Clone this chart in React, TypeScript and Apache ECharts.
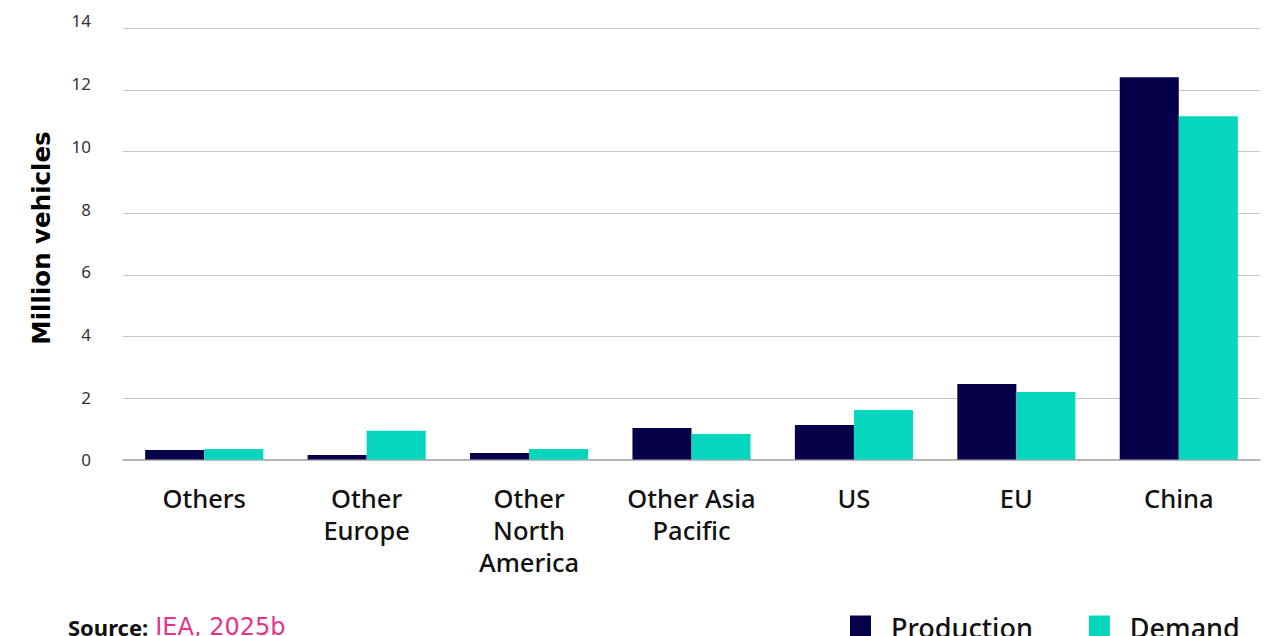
import React, { useEffect, useRef } from "react";
import * as echarts from "echarts";

const categories = ["Others", "Other\nEurope", "Other\nNorth\nAmerica", "Other Asia\nPacific", "US", "EU", "China"];
const production = [0.31, 0.15, 0.21, 1.02, 1.12, 2.45, 12.42];
const demand = [0.34, 0.93, 0.34, 0.83, 1.61, 2.19, 11.15];
const seriesNames = ["Production", "Demand"];
const yTicks = { min: 0, max: 14, interval: 2 };

const FONT = "'Noto Sans', sans-serif";
const WIDE_FONT = "'DejaVu Sans', sans-serif";

// tick labels sit slightly above their grid lines toward the top of the axis
const tickRich: Record<string, any> = {};
for (let v = yTicks.min; v <= yTicks.max; v += yTicks.interval) {
  const shift = Math.max(0, Math.round((v / yTicks.max) * 9 - 1));
  tickRich["t" + v] = {
    fontFamily: FONT,
    fontSize: 17,
    color: "#333",
    padding: [0, 0, shift * 2, 0],
  };
}

export default function App() {
  const ref = useRef<HTMLDivElement>(null);
  useEffect(() => {
    if (!ref.current) return;
    const chart = echarts.init(ref.current, undefined, { renderer: "svg" });
    chart.setOption({
      animation: false,
      backgroundColor: "#ffffff",
      grid: { left: 123, right: 24, top: 28.5, bottom: 176.5 },
      legend: {
        left: 850,
        top: 614,
        padding: 0,
        itemWidth: 21,
        itemHeight: 24,
        itemGap: 56,
        icon: "rect",
        textStyle: { fontFamily: FONT, fontSize: 27, fontWeight: 500, color: "#111", padding: [0, 0, 0, 15] },
        data: seriesNames,
      },
      xAxis: {
        type: "category",
        data: categories,
        axisTick: { show: false },
        axisLine: { lineStyle: { color: "#a6a6a6", width: 1.5 } },
        axisLabel: {
          interval: 0,
          margin: 22,
          fontFamily: FONT,
          fontSize: 25.5,
          fontWeight: 500,
          lineHeight: 32,
          color: "#111",
          verticalAlign: "top",
        },
      },
      yAxis: {
        type: "value",
        min: yTicks.min,
        max: yTicks.max,
        interval: yTicks.interval,
        axisLabel: {
          margin: 32,
          formatter: (v: number) => `{t${v}|${v}}`,
          rich: tickRich,
        },
        splitLine: { lineStyle: { color: "#c6c6c6", width: 1 } },
        axisLine: { show: false },
        axisTick: { show: false },
      },
      series: [
        {
          name: seriesNames[0],
          type: "bar",
          data: production,
          itemStyle: { color: "#06004a" },
          barGap: "0%",
          barCategoryGap: "27.3%",
        },
        {
          name: seriesNames[1],
          type: "bar",
          data: demand,
          itemStyle: { color: "#07d6be" },
          barGap: "0%",
          barCategoryGap: "27.3%",
        },
      ],
      graphic: [
        {
          type: "text",
          x: 41,
          y: 238,
          rotation: Math.PI / 2,
          style: {
            text: "Million vehicles",
            fontFamily: WIDE_FONT,
            fontSize: 24.5,
            fontWeight: "bold",
            fill: "#000",
            align: "center",
            verticalAlign: "middle",
          },
        },
        {
          type: "text",
          x: 68,
          y: 627,
          style: {
            text: "{b|Source:}{p|IEA, 2025b}",
            verticalAlign: "middle",
            rich: {
              b: { fontFamily: FONT, fontSize: 22, fontWeight: "bold", fill: "#111", padding: [0, 7, 0, 0] },
              p: { fontFamily: WIDE_FONT, fontSize: 24, fill: "#e6338c" },
            },
          },
        },
      ],
    });
    return () => chart.dispose();
  }, []);
  return <div ref={ref} style={{ position: "fixed", left: 0, top: 0, width: 1284, height: 636 }} />;
}
